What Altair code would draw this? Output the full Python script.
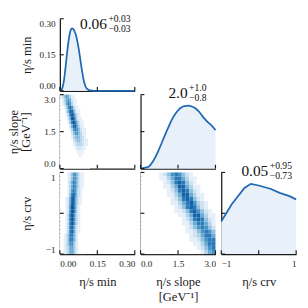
import altair as alt
import pandas as pd

FONT = "Liberation Serif"
INK = "#1a1a1a"
LINE = "#1f69b1"
FILL = "#e8f1f9"

# ---------------- axis ranges / ticks ----------------
min_dom = [0.0, 0.3]
min_ticks = [0.0, 0.15, 0.3]
slope_dom = [0.0, 3.0]
slope_ticks = [0.0, 1.5, 3.0]
crv_dom = [-1.0, 1.0]
crv_ticks = [-1, 0, 1]
dens_ticks = [0.0, 0.5, 1.0]
min_dens_dom = [0.0, 0.3]
min_dens_ticks = [0.0, 0.15, 0.3]

# ---------------- 1D marginals ----------------
min_x = [0.000, 0.005, 0.010, 0.015, 0.020, 0.025, 0.030, 0.035, 0.040, 0.045, 0.050,
         0.055, 0.060, 0.065, 0.070, 0.075, 0.080, 0.085, 0.090, 0.095, 0.100, 0.105,
         0.110, 0.120, 0.140, 0.300]
min_y = [0.000, 0.003, 0.012, 0.034, 0.072, 0.120, 0.168, 0.209, 0.240, 0.256, 0.260,
         0.255, 0.245, 0.229, 0.206, 0.178, 0.144, 0.108, 0.075, 0.046, 0.026, 0.013,
         0.007, 0.002, 0.000, 0.000]

slope_x = [0.00, 0.15, 0.32, 0.50, 0.70, 0.90, 1.09, 1.25, 1.41, 1.60, 1.76, 1.92,
           2.05, 2.18, 2.34, 2.50, 2.66, 2.82, 3.00]
slope_y = [0.004, 0.010, 0.026, 0.10, 0.23, 0.39, 0.54, 0.66, 0.75, 0.82, 0.845, 0.85,
           0.84, 0.82, 0.77, 0.70, 0.64, 0.59, 0.52]

crv_x = [-1.00, -0.72, -0.38, -0.21, 0.00, 0.31, 0.56, 0.82, 1.00]
crv_y = [0.40, 0.61, 0.81, 0.86, 0.84, 0.80, 0.75, 0.71, 0.67]

# ---------------- posterior summaries ----------------
post_median = ["0.06", "2.0", "0.05"]
post_plus = ["+0.03", "+1.0", "+0.95"]
post_minus = ["\u22120.03", "\u22120.8", "\u22120.73"]

# ---------------- 2D histograms (intensity 0-9) ----------------
grid_slope_min = [
    "1246531100000000",
    "0135652110000000",
    "0125763110000000",
    "0013686311000000",
    "0002588521100000",
    "0001379742100000",
    "0000259852110000",
    "0000147974211000",
    "0000025885311000",
    "0000013676421100",
    "0000002466431100",
    "0000001345432100",
    "0000000234432110",
    "0000000123332110",
    "0000000012221100",
    "0000000001111000",
    "0000000000110000",
    "0000000000000000",
    "0000000000000000",
    "0000000000000000",
]
grid_crv_min = [
    "0000124664211000",
    "0000124664211000",
    "0000135764211000",
    "0000135764211000",
    "0000136763210000",
    "0000147863210000",
    "0001258853110000",
    "0001258853110000",
    "0001269852100000",
    "0001269852100000",
    "0001379742100000",
    "0001379742100000",
    "0001379742100000",
    "0001378631100000",
    "0001378631100000",
    "0012477531000000",
    "0012477531000000",
    "0012466421000000",
    "0012355421000000",
    "0012355421000000",
]
grid_crv_slope = [
    "00000124676421000000",
    "00000113577531100000",
    "00000012478742100000",
    "00000011358853110000",
    "00000001247874210000",
    "00000001135885311000",
    "00000000124787421000",
    "00000000113578632100",
    "00000000012478742100",
    "00000000011247864210",
    "00000000001135885311",
    "00000000000124787421",
    "00000000000113577531",
    "00000000000012467642",
    "00000000000011246764",
    "00000000000001235775",
    "00000000000001124677",
    "00000000000000113577",
    "00000000000000012467",
    "00000000000000001356",
]
blues = ["#ffffff", "#e4eff9", "#cfe1f2", "#b3d3e9", "#8fc1de", "#69abd3",
         "#4794c7", "#2b7bba", "#1662a8", "#0a4b92"]

W = 78
H1, H2, H3 = 75, 77, 85
TICK = 4


def grid_frame(rows, x0, dx, ytop, dy):
    recs = []
    for r, s in enumerate(rows):
        for c, ch in enumerate(s):
            recs.append({"x": x0 + c * dx, "x2": x0 + (c + 1) * dx,
                         "y": ytop - (r + 1) * dy, "y2": ytop - r * dy, "v": int(ch)})
    return pd.DataFrame(recs)


def sc(dom):
    return alt.Scale(domain=dom, nice=False, zero=False)


def axis(ticks, fmt=None, labels=False, title=None, orient="x", H=74, tx=-28):
    kw = dict(values=ticks, ticks=False, grid=False, domainColor=INK, domainWidth=1.3,
              labelOverlap=False, labelFlush=True)
    if labels:
        kw.update(format=fmt, labels=True, labelFont=FONT, labelFontSize=9.5,
                  labelColor=INK, labelPadding=5)
    else:
        kw.update(labels=False)
    if title is not None:
        kw.update(title=title, titleFont=FONT, titleFontSize=13, titleFontWeight="normal",
                  titleColor=INK)
        if orient == "y":
            kw.update(titleX=tx, titleY=H / 2, titleAngle=270, titleAlign="center",
                      titleBaseline="bottom", titleLineHeight=12)
        else:
            kw.update(titlePadding=8, titleLineHeight=16)
    else:
        kw.update(title="")
    return alt.Axis(**kw)


def tick_layers(xt, xs, xa, yt, ys, ya, H):
    lx = alt.Chart(pd.DataFrame({"t": xt})).mark_rule(color=INK, strokeWidth=1.2).encode(
        x=alt.X("t:Q", scale=xs, axis=xa), y=alt.value(H), y2=alt.value(H - TICK))
    ly = alt.Chart(pd.DataFrame({"t": yt})).mark_rule(color=INK, strokeWidth=1.2).encode(
        y=alt.Y("t:Q", scale=ys, axis=ya), x=alt.value(0), x2=alt.value(TICK))
    return [lx, ly]


def title_layers(i, xr):
    base = alt.Chart(pd.DataFrame({"m": [post_median[i]], "p": [post_plus[i]],
                                   "n": [post_minus[i]]}))
    top_off = [11, 4, 4][i]
    m = base.mark_text(font=FONT, fontSize=16, align="right", baseline="alphabetic",
                       color="#111").encode(text="m:N", x=alt.value(xr), y=alt.value(top_off))
    p = base.mark_text(font=FONT, fontSize=10, align="left", baseline="alphabetic",
                       color="#111").encode(text="p:N", x=alt.value(xr + 1.5),
                                            y=alt.value(top_off - 7.5))
    n = base.mark_text(font=FONT, fontSize=10, align="left", baseline="alphabetic",
                       color="#111").encode(text="n:N", x=alt.value(xr + 1.5),
                                            y=alt.value(top_off + 2.5))
    return [m, p, n]


def frame_anchor():
    # invisible guide fixing the outer left / top extent of the figure
    return alt.Chart(pd.DataFrame({"a": [0]})).mark_rule(opacity=0).encode(
        x=alt.value(-51), y=alt.value(-5), y2=alt.value(10))


def marginal(xv, yv, xdom, ydom, xt, yt, H, i, xa, ya, interp, anchor=False):
    df = pd.DataFrame({"x": xv, "y": yv})
    xs, ys = sc(xdom), sc(ydom)
    area = alt.Chart(df).mark_area(color=FILL, interpolate=interp).encode(
        x=alt.X("x:Q", scale=xs, axis=xa), y=alt.Y("y:Q", scale=ys, axis=ya))
    line = alt.Chart(df).mark_line(color=LINE, strokeWidth=1.8, interpolate=interp).encode(
        x=alt.X("x:Q", scale=xs, axis=xa), y=alt.Y("y:Q", scale=ys, axis=ya))
    layers = [area, line, *tick_layers(xt, xs, xa, yt, ys, ya, H), *title_layers(i, 49)]
    if anchor:
        layers.append(frame_anchor())
    return alt.layer(*layers).properties(width=W, height=H)


def hist2d(df, xdom, ydom, xt, yt, H, xa, ya):
    xs, ys = sc(xdom), sc(ydom)
    rect = alt.Chart(df).mark_rect(strokeWidth=0).encode(
        x=alt.X("x:Q", scale=xs, axis=xa), x2="x2:Q",
        y=alt.Y("y:Q", scale=ys, axis=ya), y2="y2:Q",
        color=alt.Color("v:O", scale=alt.Scale(domain=list(range(10)), range=blues),
                        legend=None))
    return alt.layer(rect, *tick_layers(xt, xs, xa, yt, ys, ya, H)).properties(width=W, height=H)


def blank(H):
    return alt.Chart(pd.DataFrame({"a": [0]})).mark_point(opacity=0).encode(
        x=alt.value(0), y=alt.value(0)).properties(width=W, height=H)


df_sm = grid_frame(grid_slope_min, 0.0, 0.0075, 3.0, 0.15)
df_cm = grid_frame(grid_crv_min, 0.0, 0.0075, 1.0, 0.1)
df_cs = grid_frame(grid_crv_slope, 0.0, 0.15, 1.0, 0.1)

p11 = marginal(min_x, min_y, min_dom, min_dens_dom, min_ticks, min_dens_ticks, H1, 0,
               axis(min_ticks), axis(min_dens_ticks, ".2f", True, "\u03b7/s min", "y", H1),
               "monotone", anchor=True)
p21 = hist2d(df_sm, min_dom, slope_dom, min_ticks, slope_ticks, H2,
             axis(min_ticks),
             axis(slope_ticks, ".1f", True, ["\u03b7/s slope", "[GeV\u207b\u00b9]"], "y", H2,
                  tx=-41))
p22 = marginal(slope_x, slope_y, slope_dom, [0, 1.0], slope_ticks, dens_ticks, H2, 1,
               axis(slope_ticks), axis(dens_ticks), "monotone")
p31 = hist2d(df_cm, min_dom, crv_dom, min_ticks, crv_ticks, H3,
             axis(min_ticks, ".2f", True, "\u03b7/s min"),
             axis(crv_ticks, "d", True, "\u03b7/s crv", "y", H3))
p32 = hist2d(df_cs, slope_dom, crv_dom, slope_ticks, crv_ticks, H3,
             axis(slope_ticks, ".1f", True, ["\u03b7/s slope", "[GeV\u207b\u00b9]"]),
             axis(crv_ticks))
p33 = marginal(crv_x, crv_y, crv_dom, [0, 1.0], crv_ticks, dens_ticks, H3, 2,
               axis(crv_ticks, "d", True, "\u03b7/s crv"), axis(dens_ticks), "linear")

chart = alt.concat(p11, blank(H1), blank(H1),
                   p21, p22, blank(H2),
                   p31, p32, p33,
                   columns=3, spacing={"row": 4, "column": 6}, bounds="flush").properties(
    padding={"left": 0, "top": 0, "right": 0, "bottom": 0}
).configure_view(stroke=None)

chart.save("out.html", embed_options={"renderer": "svg", "actions": False})
